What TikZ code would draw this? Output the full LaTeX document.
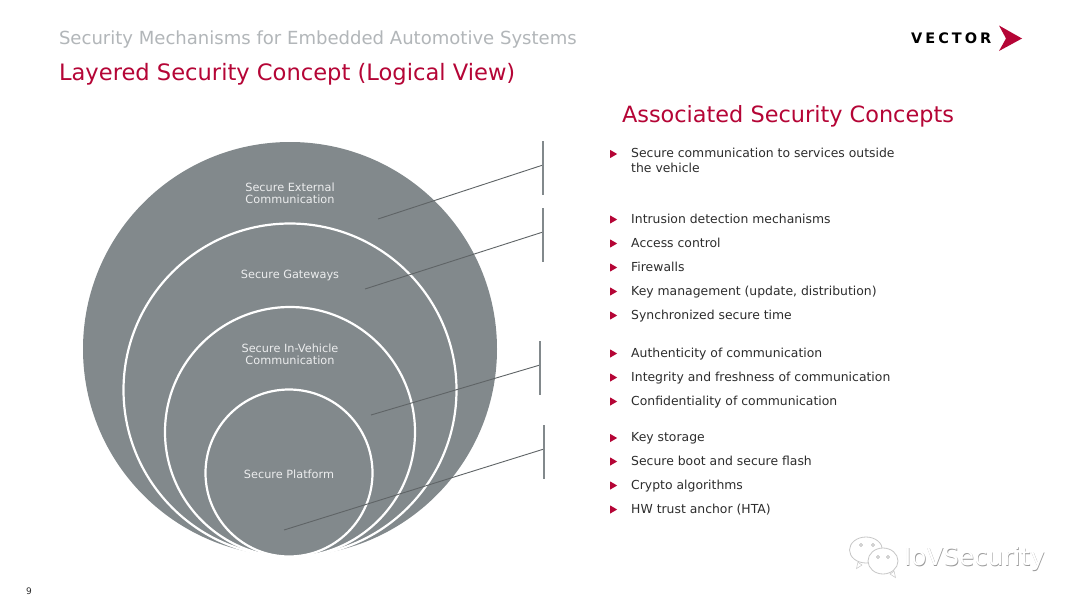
\documentclass[tikz,border=0pt]{standalone}
\usepackage{fontspec}
\setmainfont{DejaVu Sans}
\usetikzlibrary{shapes,positioning,backgrounds}
\definecolor{vecred}{RGB}{181,5,54}
\definecolor{vecgrey}{RGB}{130,137,140}
\definecolor{headgrey}{RGB}{178,182,185}
\definecolor{bodytext}{RGB}{45,45,45}
\definecolor{leadgrey}{RGB}{95,100,102}
\newcommand{\layer}[3]{\node(#1)[circle,draw=white,line width=2.2pt,fill=vecgrey,inner sep=0pt,minimum size=#3*2pt] at #2 {};}
\newcommand{\layertext}[3]{\node(#1)[align=center,text=white!85!vecgrey,font=\fontsize{11.3}{12}\selectfont] at #2 {#3};}
\newcommand{\bitem}[3]{\node(b#1)[isosceles triangle,isosceles triangle apex angle=60,fill=vecred,inner sep=0pt,minimum height=7pt,minimum width=8pt] at (612.5,#2) {};
\node(t#1)[anchor=base west,align=left,text=bodytext,font=\fontsize{12.4}{16}\selectfont] at (627.7,#2+3.6) {#3};}
\tikzset{
  leader/.style={draw=leadgrey,line width=0.9pt},
  bar/.style={draw=vecgrey,line width=1.3pt},
  bubble/.style={ellipse,draw=black!22,fill=white,line width=0.8pt,inner sep=0pt},
  bubbletail/.style={isosceles triangle,fill=white,draw=black!22,line width=0.5pt,inner sep=0pt,minimum height=5pt,minimum width=5pt},
  bubbleeye/.style={circle,draw=black!35,line width=0.5pt,inner sep=0pt,minimum size=3pt}
}
\begin{document}
\begin{tikzpicture}[x=1pt,y=-1pt]
\useasboundingbox[fill=white] (0,0) rectangle (1080,608);

\node(head)[anchor=west,text=headgrey,font=\fontsize{18.05}{20}\selectfont] at (55.5,39.5) {Security Mechanisms for Embedded Automotive Systems};
\node(title)[anchor=west,text=vecred,font=\fontsize{22.6}{24}\selectfont] at (55.5,73.8) {Layered Security Concept (Logical View)};
\node(assoc)[anchor=west,text=vecred,font=\fontsize{22.4}{24}\selectfont] at (618.5,116) {Associated Security Concepts};
\node(page)[text=bodytext,font=\fontsize{9}{10}\selectfont] at (29,591) {9};

% logo
\node(vector)[anchor=west,inner sep=0pt,font=\fontsize{14.5}{16}\bfseries\selectfont] at (911,38.5) {V\kern3pt E\kern3pt C\kern3pt T\kern3pt O\kern3pt R};
\fill[vecred] (999,25.5) -- (1022,38.5) -- (999,51) -- (1006,38.5) -- cycle;

% circles
\node(outer)[circle,fill=vecgrey,inner sep=0pt,minimum size=414pt] at (290,349) {};
\layer{gate}{(290,390)}{166.5}
\layer{invehicle}{(290,432)}{125}
\layer{platform}{(289,473)}{83.5}
\layertext{lext}{(290,193.5)}{Secure External\\Communication}
\layertext{lgate}{(290,275)}{Secure Gateways}
\layertext{lveh}{(290,354)}{Secure In-Vehicle\\Communication}
\layertext{lplat}{(289,474)}{Secure Platform}

% leaders
\coordinate (a1) at (378,219); \coordinate (e1) at (543,165);
\coordinate (a2) at (365,289); \coordinate (e2) at (543,232);
\coordinate (a3) at (371,415); \coordinate (e3) at (540,365);
\coordinate (a4) at (284,530); \coordinate (e4) at (544,449);
\coordinate (u1) at (543,141); \coordinate (d1) at (543,195);
\coordinate (u2) at (543,208); \coordinate (d2) at (543,262);
\coordinate (u3) at (540,341); \coordinate (d3) at (540,395);
\coordinate (u4) at (544,425); \coordinate (d4) at (544,479);
\foreach \n in {1,...,4}{
  \draw[leader] (a\n) -- (e\n);
  \draw[bar] (u\n) -- (d\n);
}

% lists
\bitem{a}{154}{Secure communication to services outside}
\node(ta)[anchor=base west,text=bodytext,font=\fontsize{12.4}{16}\selectfont] at (627.7,172.3) {the vehicle};
\bitem{b}{219.5}{Intrusion detection mechanisms}
\bitem{c}{243.5}{Access control}
\bitem{d}{267.5}{Firewalls}
\bitem{e}{291.5}{Key management (update, distribution)}
\bitem{f}{315.5}{Synchronized secure time}
\bitem{g}{353.5}{Authenticity of communication}
\bitem{h}{377.5}{Integrity and freshness of communication}
\bitem{i}{401.5}{Confidentiality of communication}
\bitem{j}{438}{Key storage}
\bitem{k}{461.5}{Secure boot and secure flash}
\bitem{l}{485.5}{Crypto algorithms}
\bitem{m}{509.5}{HW trust anchor (HTA)}

% watermark
\node(bub1)[bubble,minimum width=33pt,minimum height=26pt] at (866,550) {};
\node(tail1)[bubbletail,rotate=235] at (859,565) {};
\node(bub2)[bubble,minimum width=30pt,minimum height=26pt] at (883,561) {};
\node(tail2)[bubbletail,rotate=-55] at (893,574) {};
\node(eye1)[bubbleeye] at (861,545) {};
\node(eye2)[bubbleeye] at (873,545) {};
\node(eye3)[bubbleeye] at (878,557) {};
\node(eye4)[bubbleeye] at (888,557) {};
\node(mark)[anchor=west,text=black!40,font=\fontsize{24.7}{28}\selectfont] at (901.2,559.6) {IoVSecurity};
\node(mark2)[anchor=west,text=white,font=\fontsize{24.7}{28}\selectfont] at (900.6,559) {IoVSecurity};

\end{tikzpicture}
\end{document}
